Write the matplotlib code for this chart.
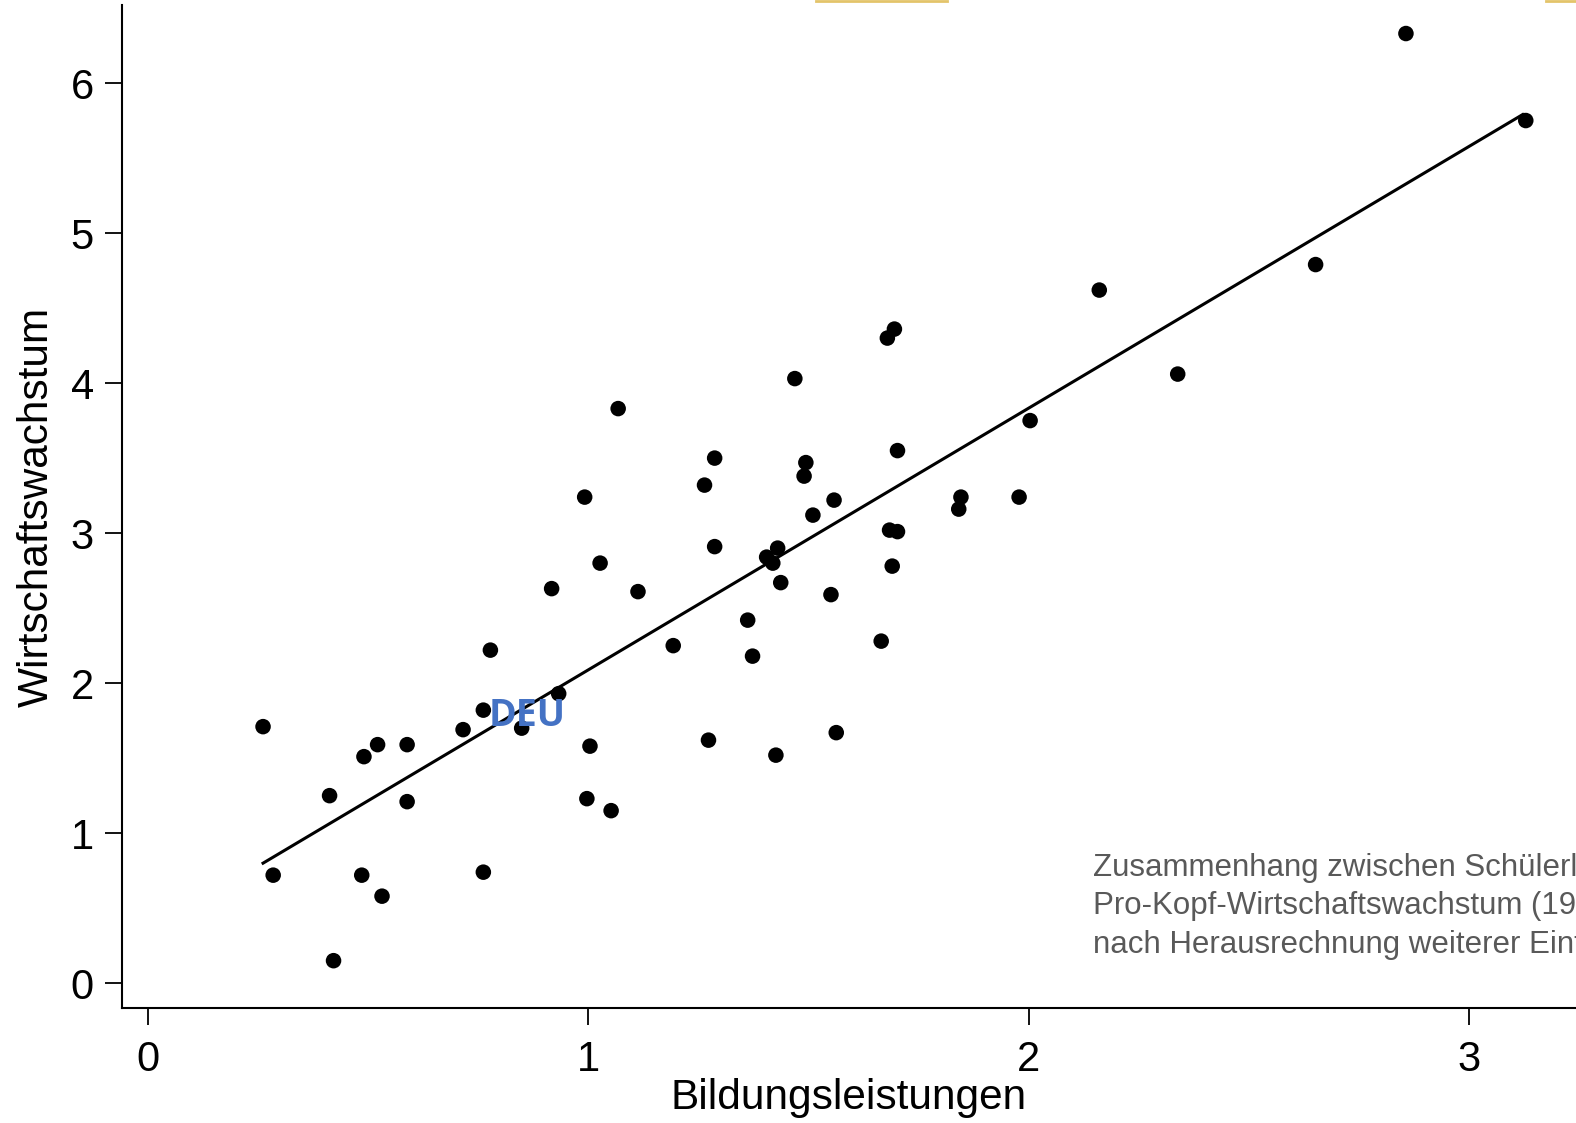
import numpy as np
import matplotlib
matplotlib.use("Agg")
import matplotlib.pyplot as plt
from matplotlib.lines import Line2D

# Bildungsleistungen (x) vs. Wirtschaftswachstum (y)
bildung = [0.262, 0.285, 0.413, 0.422, 0.486, 0.491, 0.522, 0.532, 0.589, 0.589,
           0.716, 0.762, 0.762, 0.778, 0.849, 0.917, 0.933, 0.992, 0.997, 1.004,
           1.027, 1.052, 1.068, 1.113, 1.193, 1.264, 1.273, 1.287, 1.287, 1.362,
           1.373, 1.405, 1.419, 1.426, 1.430, 1.437, 1.469, 1.490, 1.494, 1.510,
           1.551, 1.558, 1.563, 1.665, 1.679, 1.684, 1.690, 1.695, 1.702, 1.702,
           1.841, 1.846, 1.978, 2.003, 2.160, 2.338, 2.651, 2.856, 3.128]
wachstum = [1.71, 0.72, 1.25, 0.15, 0.72, 1.51, 1.59, 0.58, 1.59, 1.21,
            1.69, 0.74, 1.82, 2.22, 1.70, 2.63, 1.93, 3.24, 1.23, 1.58,
            2.80, 1.15, 3.83, 2.61, 2.25, 3.32, 1.62, 3.50, 2.91, 2.42,
            2.18, 2.84, 2.80, 1.52, 2.90, 2.67, 4.03, 3.38, 3.47, 3.12,
            2.59, 3.22, 1.67, 2.28, 4.30, 3.02, 2.78, 4.36, 3.01, 3.55,
            3.16, 3.24, 3.24, 3.75, 4.62, 4.06, 4.79, 6.33, 5.75]

fit_x = [0.262, 3.121]
fit_y = [0.80, 5.79]

x_ticks = [0, 1, 2, 3]
y_ticks = [0, 1, 2, 3, 4, 5, 6]

W, H = 1576, 1123
fig = plt.figure(figsize=(W / 100, H / 100), dpi=100)
plt.rcParams["font.family"] = ["Liberation Sans", "DejaVu Sans"]

ax = fig.add_axes([121 / 1568, 1 - 1003 / 1117, 1 - 121 / 1568, (1003 - 5) / 1117])
ax.set_xlim(-0.059, 3.242)
ax.set_ylim(-0.168, 6.52)

ax.plot(fit_x, fit_y, color="black", lw=2.2, zorder=2)
ax.scatter(bildung, wachstum, s=125, color="black", edgecolor="none", zorder=3)

ax.text(0.775, 1.78, "DEU", color="#4472C4", fontsize=27, fontweight="bold",
        family=["Open Sans", "DejaVu Sans"], ha="left", va="center", zorder=4)

notiz = ["Zusammenhang zwischen Schülerleistungen und",
         "Pro-Kopf-Wirtschaftswachstum (1960-2000)",
         "nach Herausrechnung weiterer Einflussfaktoren"]
for i, zeile in enumerate(notiz):
    ax.text(2.145, 0.77 - i * 0.258, zeile, color="#595959", fontsize=22.5,
            ha="left", va="center", clip_on=False)

ax.spines["top"].set_visible(False)
ax.spines["right"].set_visible(False)
for s in ["left", "bottom"]:
    ax.spines[s].set_linewidth(1.5)
ax.set_xticks(x_ticks)
ax.set_yticks(y_ticks)
ax.tick_params(axis="both", length=12, width=1.3, labelsize=30, pad=8)
ax.tick_params(axis="x", pad=11)
ax.set_xlabel("Bildungsleistungen", fontsize=30.5, labelpad=-2)
ax.set_ylabel("Wirtschaftswachstum", fontsize=30.5, labelpad=10)

# kleine gelbe Reste am oberen Rand
for x0, x1 in [(812, 942), (1538, 1576)]:
    fig.add_artist(Line2D([x0 / 1568, x1 / 1568], [0.999, 0.999],
                          color="#e3c46a", lw=2, transform=fig.transFigure))

fig.savefig("out.png", dpi=100)
